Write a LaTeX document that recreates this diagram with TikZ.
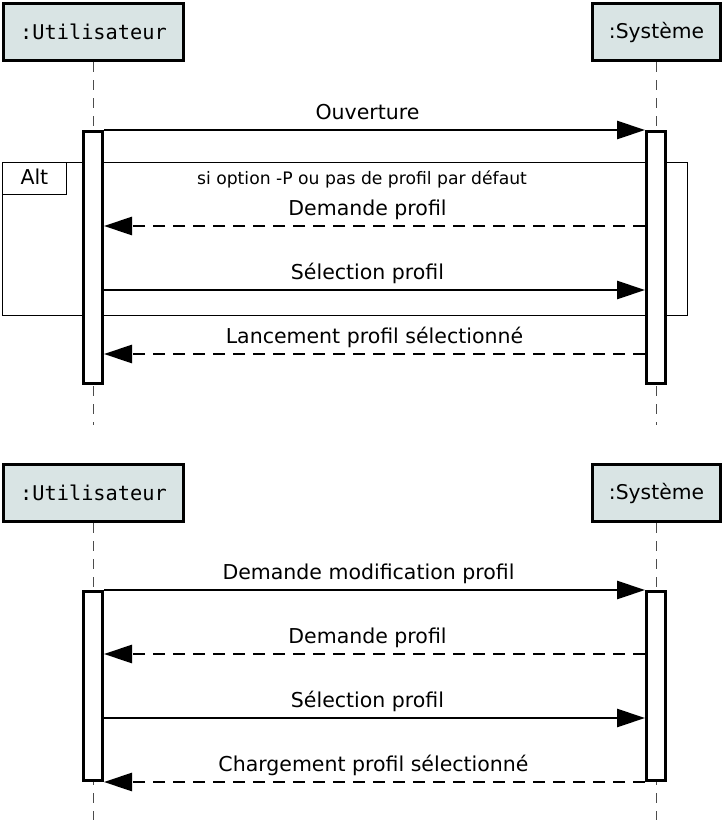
\documentclass[tikz,border=0pt]{standalone}
\usepackage{fontspec}
\setmainfont{DejaVu Sans}
\setmonofont{DejaVu Sans Mono}
\usetikzlibrary{arrows.meta}
\definecolor{headfill}{RGB}{217,228,228}
\tikzset{
  actor/.style = {draw, line width=3pt, fill=headfill, minimum height=57pt, inner sep=0pt, font=\fontsize{20.3}{24}\selectfont},
  lifeline/.style = {black!70, line width=0.8pt, dash pattern=on 10pt off 8pt},
  activ/.style = {draw, line width=3pt, fill=white, minimum width=19pt, inner sep=0pt},
  msg/.style = {line width=2.8pt, -{Triangle[length=28pt,width=18pt]}},
  reply/.style = {msg, dash pattern=on 12pt off 8pt},
  lbl/.style = {font=\fontsize{20.5}{24}\selectfont, anchor=base, yshift=11pt}
}

\begin{document}
\begin{tikzpicture}[x=1pt, y=-1pt]
        \useasboundingbox (0,0) rectangle (725,836);
        \node[actor, minimum width=180pt, font=\fontsize{20.3}{24}\ttfamily] (ua) at (93.5,32) {:Utilisateur};
        \node[actor, minimum width=128pt] (sa) at (656.5,32) {:Système};
        \node[actor, minimum width=180pt, font=\fontsize{20.3}{24}\ttfamily] (ub) at (93.5,493) {:Utilisateur};
        \node[actor, minimum width=128pt] (sb) at (656.5,493) {:Système};
        \coordinate (enda) at (0,425);
        \coordinate (endb) at (0,820);
        \draw[lifeline] (ua.south) -- (ua |- enda);
        \draw[lifeline] (sa.south) -- (sa |- enda);
        \draw[lifeline] (ub.south) -- (ub |- endb);
        \draw[lifeline] (sb.south) -- (sb |- endb);
        \draw[line width=0.8pt] (2,162) rectangle (687,315);
        \node[draw, line width=0.8pt, anchor=north west, minimum width=64pt, minimum height=32pt, inner sep=0pt, font=\fontsize{20.5}{24}\selectfont] (alt) at (2,162) {\raisebox{4pt}{Alt}};
        \node[font=\fontsize{17.2}{20}\selectfont] (cond) at (362,179) {si option -P ou pas de profil par défaut};
        \node[activ, minimum height=252pt] (aua) at (93,257.5) {};
        \node[activ, minimum height=252pt] (asa) at (656,257.5) {};
        \node[activ, minimum height=189pt] (aub) at (93,686) {};
        \node[activ, minimum height=189pt] (asb) at (656,686) {};
        \coordinate (m1) at (0,130);
        \coordinate (m2) at (0,226);
        \coordinate (m3) at (0,290);
        \coordinate (m4) at (0,354);
        \coordinate (n1) at (0,590);
        \coordinate (n2) at (0,654);
        \coordinate (n3) at (0,718);
        \coordinate (n4) at (0,782);
        \draw[msg] (aua.east |- m1) -- (asa.west |- m1) node[lbl, midway, xshift=-7pt] (l1) {Ouverture};
        \draw[reply] (asa.west |- m2) -- (aua.east |- m2) node[lbl, midway, xshift=-7pt] (l2) {Demande profil};
        \draw[msg] (aua.east |- m3) -- (asa.west |- m3) node[lbl, midway, xshift=-7pt] (l3) {Sélection profil};
        \draw[reply] (asa.west |- m4) -- (aua.east |- m4) node[lbl, midway] (l4) {Lancement profil sélectionné};
        \draw[msg] (aub.east |- n1) -- (asb.west |- n1) node[lbl, midway, xshift=-6pt] (k1) {Demande modification profil};
        \draw[reply] (asb.west |- n2) -- (aub.east |- n2) node[lbl, midway, xshift=-7pt] (k2) {Demande profil};
        \draw[msg] (aub.east |- n3) -- (asb.west |- n3) node[lbl, midway, xshift=-7pt] (k3) {Sélection profil};
        \draw[reply] (asb.west |- n4) -- (aub.east |- n4) node[lbl, midway, xshift=-1pt] (k4) {Chargement profil sélectionné};
\end{tikzpicture}
\end{document}
